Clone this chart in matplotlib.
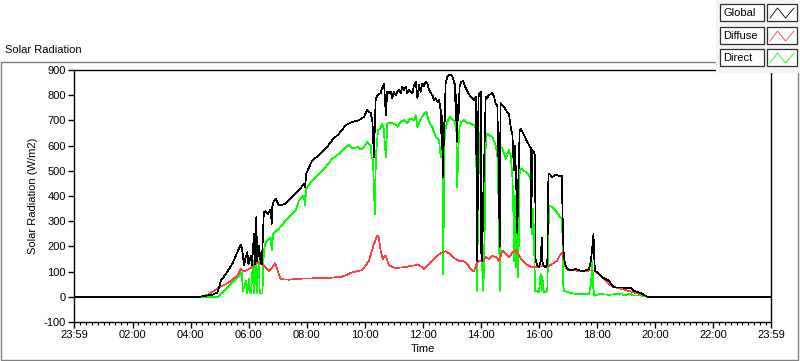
import matplotlib
matplotlib.use("Agg")
import matplotlib.pyplot as plt
from matplotlib.patches import Rectangle
from matplotlib.lines import Line2D
from matplotlib.ticker import MultipleLocator

plt.rcParams['font.family'] = ['Liberation Sans', 'DejaVu Sans']
plt.rcParams['axes.unicode_minus'] = False

# ---------------- data (time in decimal hours, W/m2) ----------------
global_t = [-0.02, 4.29, 4.75, 4.92, 4.98, 5.04, 5.21, 5.43, 5.61, 5.72, 5.77, 5.84, 5.88, 5.95, 5.99,
            6.07, 6.11, 6.18, 6.21, 6.26, 6.29, 6.35, 6.41, 6.45, 6.52, 6.58, 6.67, 6.72, 6.76, 6.79,
            6.81, 6.87, 6.93, 7.04, 7.15, 7.27, 7.50, 7.73, 7.90, 7.94, 7.98, 8.19, 8.42, 8.65, 8.88,
            9.11, 9.34, 9.57, 9.80, 9.97, 10.08, 10.20, 10.26, 10.31, 10.37, 10.43, 10.54, 10.60,
            10.66, 10.72, 10.77, 10.83, 10.89, 10.94, 11.00, 11.06, 11.12, 11.17, 11.23, 11.29,
            11.35, 11.41, 11.46, 11.52, 11.58, 11.64, 11.69, 11.75, 11.81, 11.86, 11.92, 11.98,
            12.04, 12.09, 12.15, 12.21, 12.27, 12.32, 12.38, 12.44, 12.49,
            12.55, 12.61, 12.63, 12.65, 12.67, 12.69, 12.71, 12.73, 12.75, 12.78, 12.84, 12.92,
            13.01, 13.10, 13.13, 13.15, 13.17, 13.18, 13.20, 13.22, 13.26, 13.32, 13.38, 13.45,
            13.53, 13.64, 13.76, 13.82, 13.85, 13.87, 13.91, 13.95, 13.99, 14.01, 14.04, 14.07,
            14.10, 14.16, 14.22, 14.27, 14.39, 14.45, 14.50, 14.56, 14.62, 14.64, 14.67, 14.73,
            14.79, 14.85, 14.90, 14.96, 15.02, 15.08, 15.13, 15.17, 15.21, 15.25, 15.28, 15.33,
            15.37, 15.48, 15.59, 15.65, 15.71, 15.73, 15.76, 15.82, 15.86, 15.88, 15.94, 15.99,
            16.05, 16.09, 16.11, 16.16, 16.22, 16.28, 16.32, 16.38, 16.45, 16.57, 16.68, 16.78,
            16.82, 16.85, 16.91, 17.03, 17.26, 17.48, 17.72, 17.78, 17.83, 17.87, 17.90, 17.92,
            18.06, 18.17, 18.29, 18.40, 18.52, 18.63, 18.86, 19.09, 19.15, 19.27, 19.44, 19.56,
            19.73, 23.98]
global_v = [0, 0, 8, 17, 37, 64, 90, 130, 177, 206, 190, 124, 150, 177, 130,
            163, 124, 250, 130, 316, 140, 203, 137, 130, 336, 340, 329, 343, 345, 290,
            356, 382, 389, 363, 365, 369, 396, 422, 449, 435, 489, 542, 562, 588, 622,
            648, 681, 694, 701, 714, 741, 729, 694, 555, 781, 801, 808, 830,
            847, 721, 814, 808, 814, 788, 814, 800, 814, 821, 808, 834,
            821, 834, 808, 821, 814, 808, 841, 854, 788, 841, 814, 847,
            834, 854, 847, 821, 808, 801, 781, 788, 774,
            781, 741, 650, 720, 560, 475, 690, 600, 720, 847, 874, 883,
            874, 841, 700, 800, 640, 615, 760, 700, 834, 854, 856, 834,
            814, 794, 781, 794, 409, 143, 794, 808, 814, 157, 143, 380,
            500, 794, 790, 801, 808, 794, 768, 760, 409, 196, 768, 760,
            754, 741, 734, 727, 674, 641, 502, 600, 450, 251, 450, 661,
            668, 641, 615, 602, 590, 276, 582, 575, 560, 143, 124, 117,
            140, 236, 140, 124, 117, 130, 489, 485, 475, 485, 480, 480,
            250, 157, 124, 104, 110, 101, 110, 143, 196, 250, 150, 104,
            90, 77, 70, 64, 44, 37, 37, 33, 37, 24, 17, 11,
            0, 0]

diffuse_t = [-0.02, 4.29, 4.60, 4.98, 5.32, 5.61, 5.72, 5.84, 5.95, 6.07, 6.18, 6.26, 6.35, 6.47,
             6.58, 6.70, 6.80, 6.90, 6.97, 7.10, 7.39, 7.80, 8.19, 8.45, 8.65, 9.22, 9.57, 9.91,
             10.14, 10.31, 10.43, 10.48, 10.54, 10.62, 10.67, 10.72, 10.83, 11.06, 11.40, 11.64,
             11.86, 12.04, 12.21, 12.32, 12.45, 12.67, 12.78, 12.90, 13.07, 13.24, 13.38, 13.53,
             13.64, 13.76, 13.85, 13.93, 14.05, 14.16, 14.28, 14.39, 14.55, 14.62, 14.73, 14.85,
             14.96, 15.08, 15.19, 15.30, 15.42, 15.54, 15.76, 15.94, 16.11, 16.28, 16.45, 16.62,
             16.74, 16.80, 16.85, 16.91, 17.03, 17.26, 17.50, 17.72, 17.90, 18.06, 18.29, 18.52,
             18.86, 19.27, 19.56, 19.73, 23.98]
diffuse_v = [0, 0, 8, 37, 57, 84, 110, 101, 107, 114, 125, 137, 133, 130,
             117, 101, 115, 133, 115, 70, 68, 72, 73, 76, 74, 80, 97, 106,
             143, 210, 243, 235, 183, 150, 160, 163, 124, 114, 118, 124,
             127, 110, 130, 143, 160, 177, 181, 172, 154, 143, 143, 130,
             110, 101, 130, 143, 140, 157, 150, 163, 155, 140, 183, 170,
             157, 175, 186, 165, 143, 130, 117, 117, 124, 120, 130, 143,
             170, 177, 143, 117, 104, 104, 100, 104, 104, 90, 64, 40,
             31, 17, 8, 0, 0]

direct_t = [-0.02, 4.95, 5.32, 5.67, 5.76, 5.80, 5.85, 5.90, 5.95, 6.01, 6.04, 6.07, 6.10, 6.15,
            6.18, 6.24, 6.27, 6.35, 6.38, 6.47, 6.52, 6.56, 6.64, 6.76, 6.79, 6.84, 7.04, 7.27,
            7.62, 7.73, 7.90, 7.94, 7.98, 8.19, 8.42, 8.65, 8.88, 9.11, 9.34, 9.45, 9.57, 9.75,
            9.86, 9.97, 10.08, 10.20, 10.23, 10.28, 10.34, 10.38, 10.45, 10.53, 10.59, 10.65,
            10.72, 10.77, 10.90, 11.05, 11.12, 11.23, 11.35, 11.45, 11.58, 11.70, 11.75, 11.81,
            11.90, 12.04, 12.12, 12.21, 12.32, 12.44, 12.55, 12.61, 12.64, 12.67, 12.70, 12.72,
            12.75, 12.84, 12.92, 13.01, 13.10, 13.15, 13.18, 13.22, 13.26, 13.32, 13.41, 13.53,
            13.64, 13.76, 13.82, 13.85, 13.87, 13.91, 13.95, 14.03, 14.06, 14.08, 14.13, 14.16,
            14.20, 14.30, 14.39, 14.50, 14.56, 14.62, 14.64, 14.67, 14.73, 14.79, 14.85, 14.90,
            14.96, 15.02, 15.08, 15.12, 15.13, 15.17, 15.21, 15.25, 15.28, 15.33, 15.40, 15.48,
            15.59, 15.65, 15.71, 15.73, 15.76, 15.80, 15.86, 15.94, 15.99, 16.05, 16.09, 16.11,
            16.16, 16.22, 16.28, 16.32, 16.34, 16.45, 16.57, 16.68, 16.78, 16.80, 16.82, 16.85,
            17.03, 17.26, 17.50, 17.72, 17.78, 17.81, 17.83, 17.86, 17.90, 18.06, 18.40, 18.86,
            18.90, 19.15, 19.20, 19.50, 19.73, 23.98]
direct_v = [0, 0, 44, 84, 97, 24, 40, 64, 13, 70, 20, 13, 50, 143,
            13, 157, 13, 143, 13, 13, 177, 210, 223, 236, 183, 250, 270, 303,
            343, 382, 402, 363, 429, 462, 489, 515, 548, 568, 595, 602, 588, 595,
            584, 595, 615, 600, 555, 540, 329, 560, 661, 668, 688, 665,
            555, 688, 690, 685, 674, 694, 701, 690, 708, 700, 721, 674,
            700, 728, 734, 694, 674, 635, 622, 555, 600, 545, 90, 400,
            655, 694, 714, 705, 694, 655, 435, 600, 674, 694, 701, 690,
            688, 681, 670, 409, 24, 608, 650, 143, 64, 24, 300, 608,
            648, 640, 635, 602, 560, 303, 24, 595, 590, 568, 548, 565,
            582, 560, 475, 300, 143, 400, 117, 462, 77, 502, 509, 500,
            490, 482, 460, 382, 250, 350, 24, 24, 17, 90, 24, 80,
            17, 17, 24, 263, 363, 356, 343, 323, 309, 250, 64, 24,
            17, 11, 11, 11, 50, 90, 137, 40, 4, 11, 8, 13,
            5, 13, 5, 5, 0, 0]

series_names = ["Global", "Diffuse", "Direct"]
series_colors = ["#000000", "#ff4040", "#00ff00"]

tick_hours = [-1 / 60, 2, 4, 6, 8, 10, 12, 14, 16, 18, 20, 22, 23 + 59 / 60]
tick_labels = ["23:59", "02:00", "04:00", "06:00", "08:00", "10:00", "12:00",
               "14:00", "16:00", "18:00", "20:00", "22:00", "23:59"]
y_ticks = [-100, 0, 100, 200, 300, 400, 500, 600, 700, 800, 900]

# ---------------- figure ----------------
W, H = 800, 361
fig = plt.figure(figsize=(W / 100, H / 100), dpi=100)
fig.patch.set_facecolor("white")

def fx(px):
    return px / W

def fy(py):
    return 1 - py / H

# outer gray frame
fig.patches.append(Rectangle((fx(1), fy(360)), fx(797), (360 - 62) / H, transform=fig.transFigure,
                             fill=False, edgecolor="#808080", linewidth=1.0, zorder=0))
fig.text(fx(5), fy(50), "Solar Radiation", fontsize=8, ha="left", va="center")

ax = fig.add_axes([fx(74), fy(322), fx(771 - 74), (322 - 70) / H])
ax.plot(direct_t, direct_v, color=series_colors[2], lw=0.5, zorder=2, antialiased=False)
ax.plot(diffuse_t, diffuse_v, color=series_colors[1], lw=0.5, zorder=3, antialiased=False)
ax.plot(global_t, global_v, color=series_colors[0], lw=0.5, zorder=4, antialiased=False)

ax.set_xlim(-1 / 60, 23 + 59 / 60)
ax.set_ylim(-100, 900)
ax.set_xticks(tick_hours)
ax.set_xticklabels(tick_labels)
ax.xaxis.set_minor_locator(MultipleLocator(0.2))
ax.set_yticks(y_ticks)
ax.tick_params(axis="both", which="major", direction="out", length=4, width=1,
               labelsize=8, pad=2, color="black")
ax.tick_params(axis="x", which="minor", direction="out", length=2.5, width=0.8)
for s in ax.spines.values():
    s.set_linewidth(1.0)
    s.set_color("black")
ax.set_ylabel("Solar Radiation (W/m2)", fontsize=8, labelpad=4)
ax.set_xlabel("Time", fontsize=8, labelpad=3)

# legend (LabVIEW style)
fig.patches.append(Rectangle((fx(716), fy(73)), fx(84), 73 / H, transform=fig.transFigure,
                             facecolor="#f4f4f4", edgecolor="none", zorder=5))
rows = [(4, 21), (27, 44), (49, 66)]
for (top, bot), name, col in zip(rows, series_names, series_colors):
    fig.patches.append(Rectangle((fx(720), fy(bot)), fx(44), (bot - top) / H,
                                 transform=fig.transFigure, facecolor="white",
                                 edgecolor="#303030", linewidth=0.9, zorder=6))
    fig.patches.append(Rectangle((fx(767), fy(bot)), fx(30), (bot - top) / H,
                                 transform=fig.transFigure, facecolor="white",
                                 edgecolor="#303030", linewidth=0.9, zorder=6))
    fig.text(fx(723), fy((top + bot) / 2 + 0.5), name, fontsize=8, ha="left", va="center", zorder=7)
    zx = [fx(770), fx(777.5), fx(785.5), fx(794)]
    zy = [fy(bot - 3), fy(top + 4), fy(bot - 3), fy(top + 4)]
    fig.lines.append(Line2D(zx, zy, transform=fig.transFigure, color=col, lw=0.6, zorder=7))

fig.savefig("out.png", dpi=100)
